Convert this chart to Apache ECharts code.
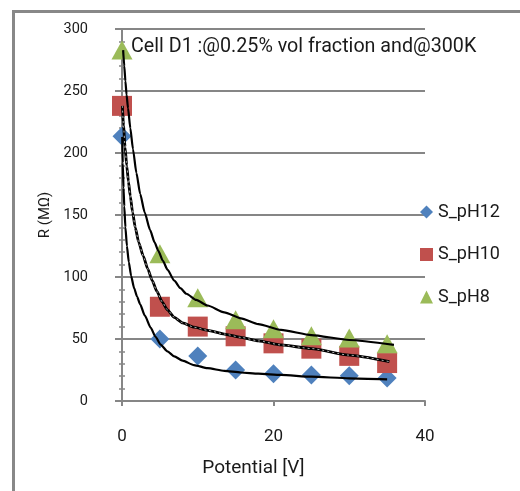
<!DOCTYPE html>
<html>
<head>
<meta charset="utf-8">
<script src="https://cdn.jsdelivr.net/npm/echarts@6/dist/echarts.min.js"></script>
<style>
html,body{margin:0;padding:0;background:#fff;}
#chart{width:520px;height:491px;}
</style>
</head>
<body>
<div id="chart"></div>
<script>
// Measured data points
const xValues = [0, 5, 10, 15, 20, 25, 30, 35];
const pH12 = [213.5, 50, 36.3, 25, 22, 21, 20.4, 18.5];
const pH10 = [238, 76, 60, 52.2, 46.5, 42.2, 36.4, 30.6];
const pH8 = [283, 118.8, 83.2, 65.6, 58.3, 52.7, 50.8, 46.1];

// Trend curves, points
const trendX12 = [0.03, 0.1, 0.2, 0.3, 0.45, 0.65, 0.9, 1.2, 1.6, 2.0, 2.4, 3.0, 3.8, 4.4, 5.1, 6.0, 6.9, 8, 9.5, 11.3, 13.5, 15.7, 18, 21, 25, 30, 35];
const trendY12 = [213, 192, 172, 157, 140, 125, 112, 101, 91, 84, 78, 69, 59, 52, 45.5, 40, 36, 32.5, 29, 26.5, 24.3, 23, 22, 21, 19.6, 18.3, 17.5];
const trendX10 = [0.05, 0.2, 0.4, 0.62, 0.85, 1.1, 1.4, 1.75, 2.2, 2.8, 3.4, 4.0, 4.6, 5.3, 6.0, 6.9, 8, 9.5, 11.3, 13.5, 15.7, 18, 21, 25, 30, 35.3];
const trendY10 = [238, 222, 205, 190, 177, 165, 152, 140, 128, 117, 106.5, 97, 88.5, 80, 73.5, 67.5, 63, 59.5, 57, 54, 51.3, 48.5, 45.2, 42.3, 37, 31.7];
const trendX8 = [0.15, 0.3, 0.45, 0.6, 0.8, 1.1, 1.45, 1.9, 2.4, 3.0, 3.7, 4.3, 4.8, 5.4, 6.0, 6.9, 7.7, 8.5, 9.8, 11.3, 13.5, 15.7, 18, 21, 25, 30, 35.9];
const trendY8 = [283, 270, 258, 247, 236, 220, 203, 184, 167, 152, 138, 128, 121, 113, 106, 97, 91, 86.5, 81.5, 77, 71.5, 66.7, 62, 57.3, 53.2, 49.2, 45.2];

const seriesNames = ['S_pH12', 'S_pH10', 'S_pH8'];
const titleText = 'Cell D1 :@0.25% vol fraction and@300K';
const xName = 'Potential [V]';
const yName = 'R (MΩ)';

function pairs(xs, ys) { return xs.map((x, i) => [x, ys[i]]); }

const FONT = 'Roboto, "Liberation Sans", sans-serif';
const chart = echarts.init(document.getElementById('chart'), null, {renderer: 'canvas'});
const gridColor = '#868686';

chart.setOption({
  animation: false,
  backgroundColor: '#ffffff',
  textStyle: {fontFamily: FONT, color: '#1a1a1a'},
  title: {
    text: titleText,
    left: 131, top: 37,
    padding: 0,
    textStyle: {fontSize: 19.7, fontWeight: 'normal', color: '#1a1a1a', fontFamily: FONT}
  },
  legend: {
    orient: 'vertical',
    left: 420, top: 203,
    itemWidth: 13, itemHeight: 13, itemGap: 24.5,
    padding: 0,
    textStyle: {fontSize: 18, color: '#1a1a1a', fontFamily: FONT},
    data: [
      {name: seriesNames[0], icon: 'diamond'},
      {name: seriesNames[1], icon: 'rect'},
      {name: seriesNames[2], icon: 'triangle'}
    ]
  },
  grid: {left: 122, top: 29, right: 95, bottom: 90, containLabel: false},
  graphic: [{
    type: 'rect', left: 11, top: 9, z: 100,
    shape: {x: 0, y: 0, width: 700, height: 700},
    style: {fill: 'none', stroke: '#888888', lineWidth: 3}
  }],
  xAxis: {
    type: 'value', min: 0, max: 40, interval: 20,
    name: xName, nameLocation: 'middle', nameGap: 58,
    nameTextStyle: {fontSize: 19, color: '#1a1a1a', fontFamily: FONT, padding: [0, 40, 0, 0]},
    axisLine: {show: true, lineStyle: {color: gridColor, width: 2}},
    axisTick: {show: true, length: 5, lineStyle: {color: gridColor, width: 2}},
    axisLabel: {fontSize: 17, color: '#1a1a1a', margin: 27, fontFamily: FONT},
    splitLine: {show: false}
  },
  yAxis: [{
    type: 'value', min: 0, max: 300, interval: 50,
    name: yName, nameLocation: 'middle', nameGap: 69,
    nameTextStyle: {fontSize: 15, color: '#1a1a1a', fontFamily: FONT},
    axisLine: {show: true, lineStyle: {color: gridColor, width: 2}},
    axisTick: {show: true, length: 7, lineStyle: {color: gridColor, width: 2}},
    minorTick: {show: true, splitNumber: 5, length: 3, lineStyle: {color: gridColor, width: 1.5}},
    axisLabel: {fontSize: 14.5, color: '#1a1a1a', margin: 34, fontFamily: FONT},
    splitLine: {show: true, lineStyle: {color: gridColor, width: 2}}
  }, {
    type: 'value', min: 0, max: 300, interval: 50, position: 'left',
    axisLine: {show: false},
    axisTick: {show: false, inside: true},
    minorTick: {show: true, splitNumber: 5, length: 3, lineStyle: {color: gridColor, width: 1.5}},
    axisLabel: {show: false},
    splitLine: {show: false}
  }],
  series: [
    {name: seriesNames[0], type: 'scatter', symbol: 'diamond', symbolSize: 19,
     itemStyle: {color: '#4F81BD', opacity: 1}, data: pairs(xValues, pH12), z: 2},
    {name: seriesNames[1], type: 'scatter', symbol: 'rect', symbolSize: 20,
     itemStyle: {color: '#C0504D', opacity: 1}, data: pairs(xValues, pH10), z: 2},
    {name: seriesNames[2], type: 'scatter', symbol: 'triangle', symbolSize: [21, 19],
     itemStyle: {color: '#9BBB59', opacity: 1}, data: pairs(xValues, pH8), z: 2},
    {name: 'trend12', type: 'line', data: pairs(trendX12, trendY12), showSymbol: false,
     smooth: 0.2, smoothMonotone: 'x', lineStyle: {color: '#000', width: 2.2}, z: 5, silent: true},
    {name: 'trend10', type: 'line', data: pairs(trendX10, trendY10), showSymbol: false,
     smooth: 0.2, smoothMonotone: 'x', lineStyle: {color: '#000', width: 2.8}, z: 5, silent: true},
    {name: 'trend10b', type: 'line', data: pairs(trendX10, trendY10), showSymbol: false,
     smooth: 0.2, smoothMonotone: 'x', lineStyle: {color: '#dddddd', width: 0.8, type: [2, 3]}, z: 6, silent: true},
    {name: 'trend8', type: 'line', data: pairs(trendX8, trendY8), showSymbol: false,
     smooth: 0.2, smoothMonotone: 'x', lineStyle: {color: '#000', width: 2.2}, z: 5, silent: true}
  ]
});
</script>
</body>
</html>
